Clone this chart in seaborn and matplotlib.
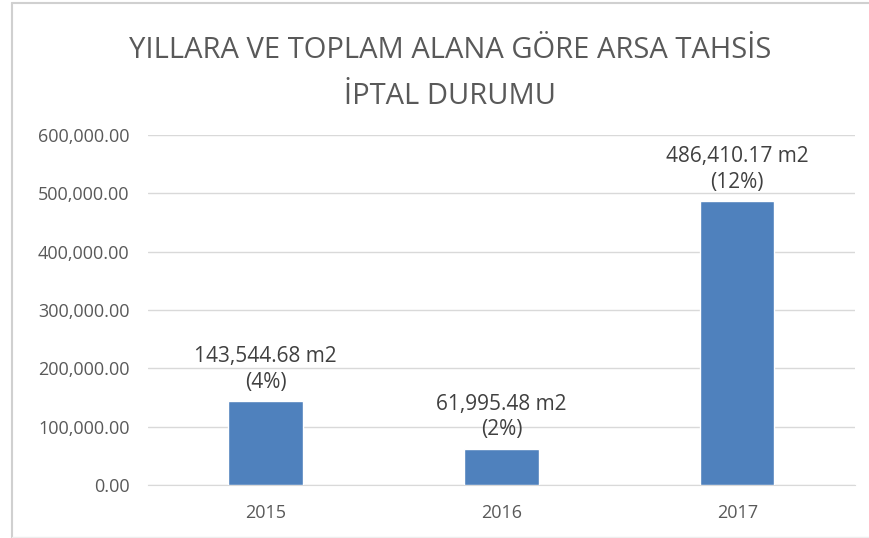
import matplotlib.pyplot as plt
from matplotlib.lines import Line2D
import numpy as np
import pandas as pd
import seaborn as sns

# Chart data
years = ['2015', '2016', '2017']
areas = [143544.68, 61995.48, 486410.17]
shares = ['4%', '2%', '12%']
y_ticks = [0, 100000, 200000, 300000, 400000, 500000, 600000]

df = pd.DataFrame({'year': years, 'area': areas})

sns.set_style('white')
plt.rcParams['font.family'] = ['Open Sans', 'DejaVu Sans']

fig = plt.figure(figsize=(8.69, 5.38), dpi=100)
ax = fig.add_axes([0.170, 0.0985, 0.814, 0.651])

sns.barplot(data=df, x='year', y='area', color='#4f81bd', saturation=1,
            width=0.315, ax=ax, zorder=3)

ax.set_ylim(0, 600000)
ax.set_yticks(y_ticks)
ax.set_yticklabels(['{:,.2f}'.format(v) for v in y_ticks])
ax.grid(axis='y', color='#d9d9d9', linewidth=1, zorder=0)
ax.set_axisbelow(True)
for side in ['top', 'right', 'left']:
    ax.spines[side].set_visible(False)
ax.spines['bottom'].set_color('#d9d9d9')
ax.tick_params(axis='both', length=0, labelsize=13, colors='#595959')
ax.tick_params(axis='y', pad=13)
ax.tick_params(axis='x', pad=14)
ax.set_xlabel('')
ax.set_ylabel('')

# data labels above bars
for i, (a, s) in enumerate(zip(areas, shares)):
    ax.annotate('{:,.2f} m2\n({})'.format(a, s), xy=(i, a), xytext=(0, 6),
                textcoords='offset points', ha='center', va='bottom',
                fontsize=15, color='#404040', linespacing=1.3)

fig.text(0.518, 0.863, 'YILLARA VE TOPLAM ALANA GÖRE ARSA TAHSİS\nİPTAL DURUMU',
         ha='center', va='center', fontsize=21, color='#595959', linespacing=1.75)

# faint outer frame
fig.add_artist(Line2D([12 / 869, 12 / 869], [0, 1 - 3 / 538], color='#d0d0d0', lw=1.5))
fig.add_artist(Line2D([12 / 869, 1], [1 - 3 / 538, 1 - 3 / 538], color='#d0d0d0', lw=1.5))
fig.add_artist(Line2D([12 / 869, 1], [1 / 538, 1 / 538], color='#eeeeee', lw=1))

plt.savefig('out.png', dpi=100)
plt.close()
